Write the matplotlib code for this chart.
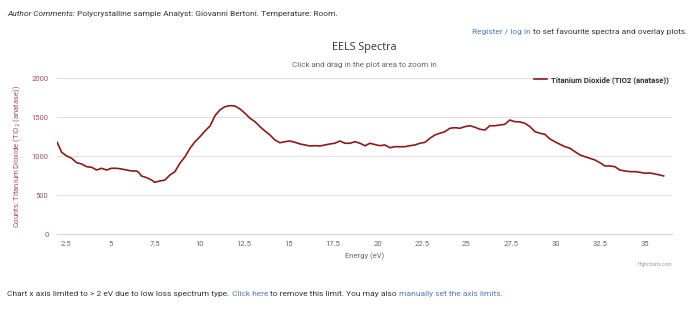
import matplotlib
matplotlib.use("Agg")
import matplotlib.pyplot as plt

plt.rcParams['font.family'] = ['Roboto', 'DejaVu Sans']

# Energy loss (eV) and counts
energy = [2.0, 2.26, 2.54, 2.82, 3.10, 3.38, 3.66, 3.94, 4.22, 4.50,
          4.78, 5.06, 5.34, 5.62, 5.90, 6.18, 6.46, 6.60, 6.74, 7.03,
          7.31, 7.48, 7.78, 8.06, 8.34, 8.62, 8.90, 9.19, 9.47, 9.75,
          10.03, 10.31, 10.60, 10.87, 11.15, 11.43, 11.71, 11.99, 12.28, 12.56,
          12.84, 13.12, 13.40, 13.68, 13.96, 14.24, 14.52, 14.80, 15.08, 15.37,
          15.65, 15.93, 16.21, 16.49, 16.77, 17.05, 17.33, 17.61, 17.89, 18.17,
          18.46, 18.74, 19.02, 19.30, 19.58, 19.86, 20.14, 20.42, 20.70, 20.98,
          21.26, 21.54, 21.83, 22.11, 22.39, 22.67, 22.95, 23.23, 23.51, 23.79,
          24.07, 24.35, 24.63, 24.92, 25.20, 25.48, 25.76, 26.04, 26.32, 26.60,
          26.88, 27.16, 27.44, 27.72, 28.01, 28.29, 28.57, 28.85, 29.13, 29.41,
          29.69, 29.97, 30.25, 30.54, 30.82, 31.10, 31.38, 31.66, 31.94, 32.22,
          32.50, 32.78, 33.06, 33.34, 33.62, 33.90, 34.18, 34.46, 34.74, 35.03,
          35.31, 35.59, 35.87, 36.08]
counts = [1180, 1051, 1004, 974, 918, 901, 867, 859, 824, 846,
          824, 846, 846, 837, 824, 812, 812, 790, 747, 726,
          696, 666, 683, 696, 760, 803, 910, 995, 1103, 1187,
          1251, 1324, 1390, 1520, 1594, 1636, 1649, 1645, 1606, 1551,
          1487, 1444, 1380, 1324, 1273, 1209, 1174, 1187, 1196, 1179,
          1158, 1145, 1132, 1136, 1132, 1145, 1158, 1167, 1196, 1167,
          1167, 1187, 1167, 1135, 1167, 1150, 1136, 1145, 1110, 1123,
          1123, 1123, 1136, 1145, 1167, 1179, 1231, 1273, 1295, 1316,
          1359, 1367, 1359, 1380, 1392, 1372, 1346, 1337, 1392, 1392,
          1401, 1410, 1465, 1444, 1440, 1423, 1380, 1316, 1295, 1282,
          1222, 1187, 1154, 1123, 1103, 1059, 1017, 995, 974, 953,
          918, 876, 876, 867, 824, 812, 803, 803, 795, 782,
          786, 773, 760, 748]

x_ticks = [2.5, 5, 7.5, 10, 12.5, 15, 17.5, 20, 22.5, 25, 27.5, 30, 32.5, 35]
y_ticks = [0, 500, 1000, 1500, 2000]

line_color = '#8b1a1a'
axis_color = '#a0525a'
link_color = '#4f7bb5'
text_color = '#333333'
grey = '#666666'
FS = 6.0


def draw_runs(fig, x, y, runs, align='left'):
    """Draw (text, color, style) pieces one after another on one line"""
    renderer = fig.canvas.get_renderer()
    fig_w = fig.bbox.width
    gap = FS * 0.27 * fig.dpi / 72.0 / fig_w
    items = []
    for txt, color, style in runs:
        t = fig.text(0, y, txt, ha='left', va='center', fontsize=FS,
                     color=color, style=style)
        w = t.get_window_extent(renderer).width / fig_w
        items.append((t, w))
    total = sum(w for _, w in items) + gap * (len(items) - 1)
    pos = x - total if align == 'right' else x
    for t, w in items:
        t.set_x(pos)
        pos += w + gap


fig = plt.figure(figsize=(6.94, 3.17), dpi=100)
ax = fig.add_axes([0.082, 0.261, 0.886, 0.492])

ax.plot(energy, counts, color=line_color, linewidth=1.2,
        label='Titanium Dioxide (TIO2 (anatase))')

ax.set_xlim(1.99, 36.54)
ax.set_ylim(0, 2000)
ax.set_xticks(x_ticks)
ax.set_xticklabels([f'{t:g}' for t in x_ticks])
ax.set_yticks(y_ticks)
ax.grid(axis='y', color='#e0e0e0', linewidth=0.8)
ax.set_axisbelow(True)
for s in ['top', 'right', 'left']:
    ax.spines[s].set_visible(False)
ax.spines['bottom'].set_color('#ccd6eb')
ax.tick_params(axis='x', colors='#ccd6eb', labelcolor=grey, labelsize=5.5, length=0, pad=5)
ax.tick_params(axis='y', length=0, labelcolor=axis_color, labelsize=5.5, pad=6)

ax.set_xlabel('Energy (eV)', fontsize=5.5, color=grey, labelpad=4)
ax.set_ylabel('Counts: Titanium Dioxide (TiO$_2$ (anatase))', fontsize=5.5,
              color=axis_color, labelpad=6)

leg = ax.legend(loc='upper right', bbox_to_anchor=(1.0, 1.035), frameon=False,
                fontsize=5.6, handlelength=1.6, handletextpad=0.5, borderaxespad=0)
for t in leg.get_texts():
    t.set_fontweight('bold')
    t.set_color(text_color)

# titles and page text
fig.text(0.525, 0.849, 'EELS Spectra', ha='center', va='center', fontsize=7.8,
         color=text_color, family=['Open Sans', 'DejaVu Sans'])
fig.text(0.525, 0.795, 'Click and drag in the plot area to zoom in', ha='center',
         va='center', fontsize=5.8, color=grey)
fig.text(0.968, 0.165, 'Highcharts.com', ha='right', va='center', fontsize=3.5, color='#999999')

draw_runs(fig, 0.010, 0.955, [
    ('Author Comments:', text_color, 'italic'),
    ('Polycrystalline sample Analyst: Giovanni Bertoni. Temperature: Room.', text_color, 'normal'),
])
draw_runs(fig, 0.990, 0.900, [
    ('Register / log in', link_color, 'normal'),
    ('to set favourite spectra and overlay plots.', text_color, 'normal'),
], align='right')
draw_runs(fig, 0.010, 0.073, [
    ('Chart x axis limited to > 2 eV due to low loss spectrum type.', text_color, 'normal'),
    ('Click here', link_color, 'normal'),
    ('to remove this limit. You may also', text_color, 'normal'),
    ('manually set the axis limits.', link_color, 'normal'),
])

fig.savefig('out.png', dpi=100)
